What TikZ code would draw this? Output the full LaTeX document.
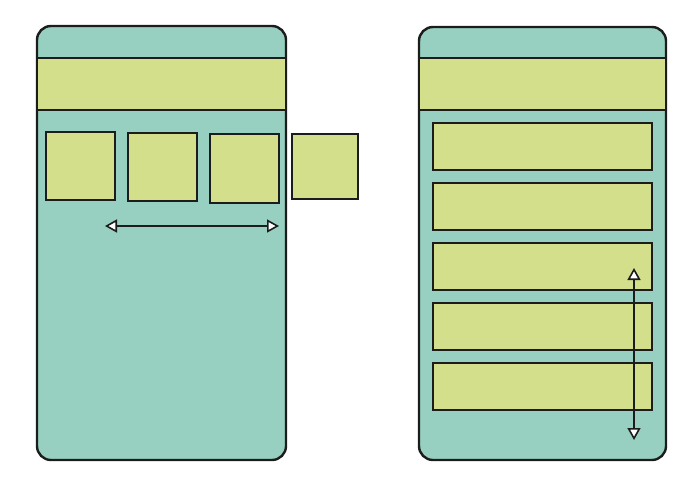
\documentclass[tikz,border=0pt]{standalone}
\usetikzlibrary{arrows.meta}
\definecolor{tealfill}{HTML}{97D0C0}
\definecolor{limefill}{HTML}{D4DF8C}
\definecolor{edge}{HTML}{1C1C1C}
\begin{document}
\begin{tikzpicture}[x=1pt,y=-1pt,
  phone/.style={draw=edge,fill=tealfill,line width=2.4pt,rounded corners=14pt,inner sep=0pt,outer sep=0pt,anchor=north west},
  panel/.style={draw=edge,fill=limefill,line width=2.4pt,inner sep=0pt,outer sep=0pt,anchor=north west},
  scrollarrow/.style={draw=edge,line width=1.8pt,{Triangle[length=12pt,width=13pt,fill=white,line width=1.6pt]}-{Triangle[length=12pt,width=13pt,fill=white,line width=1.6pt]}}
]
\useasboundingbox (0,0) rectangle (700,480);
% left phone
\node[phone,minimum width=249pt,minimum height=434pt] (lphone) at (37,26) {};
\node[panel,minimum width=249pt,minimum height=52pt] (lhead) at (37,58) {};
\node[panel,minimum width=69pt,minimum height=68pt] (sq1) at (46,132) {};
\node[panel,minimum width=69pt,minimum height=68pt] (sq2) at (128,133) {};
\node[panel,minimum width=69pt,minimum height=69pt] (sq3) at (210,134) {};
\node[panel,minimum width=66pt,minimum height=65pt] (sq4) at (292,134) {};
\coordinate (hl) at (105,226);
\coordinate (hr) at (279,226);
\draw[scrollarrow] (hl) -- (hr);
% right phone
\node[phone,minimum width=247pt,minimum height=433pt] (rphone) at (419,27) {};
\node[panel,minimum width=247pt,minimum height=52pt] (rhead) at (419,58) {};
\node[panel,minimum width=219pt,minimum height=47pt] (bar1) at (433,123) {};
\node[panel,minimum width=219pt,minimum height=47pt] (bar2) at (433,183) {};
\node[panel,minimum width=219pt,minimum height=47pt] (bar3) at (433,243) {};
\node[panel,minimum width=219pt,minimum height=47pt] (bar4) at (433,303) {};
\node[panel,minimum width=219pt,minimum height=47pt] (bar5) at (433,363) {};
\coordinate (vt) at (634,268);
\coordinate (vb) at (634,440);
\draw[scrollarrow] (vt) -- (vb);
\end{tikzpicture}
\end{document}
